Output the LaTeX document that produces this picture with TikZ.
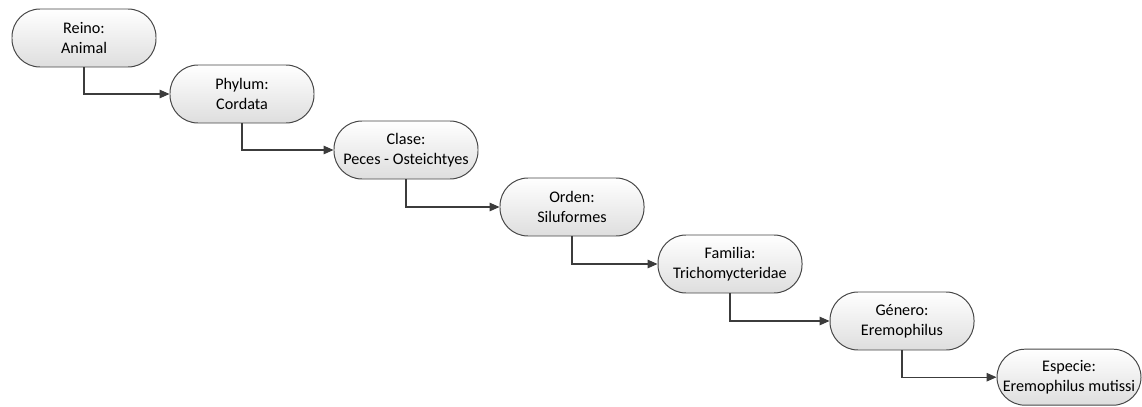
\documentclass[tikz,border=0pt]{standalone}
\usepackage{fontspec}
\setmainfont{Carlito}
\usepackage{xcolor}
\usepackage{tikz}
\usetikzlibrary{arrows.meta, positioning}
\definecolor{mydark}{RGB}{60,60,60}
\definecolor{myedge}{RGB}{70,70,70}
\definecolor{mytop}{RGB}{255,255,255}
\definecolor{mybot}{RGB}{222,222,222}
\tikzset{
  taxon/.style={rectangle, draw=myedge, top color=mytop, bottom color=mybot,
    minimum width=3.6cm, minimum height=1.45cm, align=center, inner sep=1pt,
    font=\fontsize{11.5}{14}\selectfont, rounded corners=0.7cm, line width=0.7pt},
  arrow/.style={-{Triangle[length=7pt, width=6pt]}, line width=0.8pt, color=mydark}
}

\begin{document}
\begin{tikzpicture}
  \useasboundingbox (0,0) rectangle (28.55,10.15);
  % taxonomy boxes
  \node[taxon] (reino)   at (2.10, 9.20)   {Reino:\\Animal};
  \node[taxon] (phylum)  at (6.05, 7.80)   {Phylum:\\Cordata};
  \node[taxon] (clase)   at (10.15, 6.40)  {Clase:\\Peces - Osteichtyes};
  \node[taxon] (orden)   at (14.30, 4.975) {Orden:\\Siluformes};
  \node[taxon] (familia) at (18.25, 3.55)  {Familia:\\Trichomycteridae};
  \node[taxon] (genero)  at (22.55, 2.125) {Género:\\Eremophilus};
  \node[taxon, minimum height=1.4cm] (especie) at (26.725, 0.72) {Especie:\\Eremophilus mutissi};

  % connectors
  \draw[arrow] (reino.south)   |- (phylum.west);
  \draw[arrow] (phylum.south)  |- (clase.west);
  \draw[arrow] (clase.south)   |- (orden.west);
  \draw[arrow] (orden.south)   |- (familia.west);
  \draw[arrow] (familia.south) |- (genero.west);
  \draw[arrow] (genero.south)  |- (especie.west);
\end{tikzpicture}
\end{document}
